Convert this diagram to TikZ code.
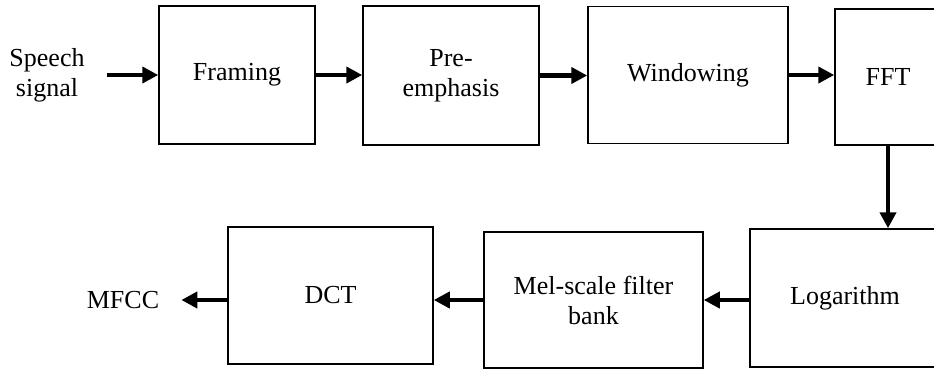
\documentclass[tikz,border=0pt]{standalone}
\usepackage{fontspec}
\setmainfont{Liberation Serif}
\usetikzlibrary{arrows.meta}
\begin{document}
\begin{tikzpicture}[x=1pt,y=-1pt,
  blk/.style={draw=black, line width=1.5pt, rectangle, align=center, inner sep=0pt},
  lbl/.style={align=center, inner sep=0pt},
  arr/.style={line width=4.5pt, -{Triangle[length=16pt,width=16pt]}},
  every node/.style={font=\fontsize{26}{30}\selectfont}]
\clip (0,0) rectangle (934,370);
\fill[white] (0,0) rectangle (934,370);
\node[blk, minimum width=156pt, minimum height=138pt] (framing) at (237,75) {Framing};
\node[blk, minimum width=176pt, minimum height=139pt] (pre) at (451,75.5) {Pre-\\emphasis};
\node[blk, minimum width=200pt, minimum height=137pt] (win) at (688,75) {Windowing};
\node[blk, minimum width=106pt, minimum height=136pt] (fft) at (888,77) {FFT};
\node[blk, minimum width=190pt, minimum height=138pt] (log) at (845,298) {Logarithm};
\node[blk, minimum width=219pt, minimum height=136pt] (mel) at (593.5,300) {Mel-scale filter\\bank};
\node[blk, minimum width=205pt, minimum height=137pt] (dct) at (330.5,295.5) {DCT};
\node[lbl] (speech) at (47,75) {Speech\\signal};
\node[lbl] (mfcc) at (123,300) {MFCC};
\draw[arr, shorten <=22pt] (speech.east) -- (speech.east -| framing.west);
\draw[arr] (framing.east) -- (framing.east -| pre.west);
\draw[arr] (pre.east) -- (pre.east -| win.west);
\draw[arr] (win.east) -- (win.east -| fft.west);
\draw[arr] (fft.south) -- (fft.south |- log.north);
\draw[arr] (log.west |- mel.east) -- (mel.east);
\draw[arr] (mel.west) -- (mel.west -| dct.east);
\draw[arr, shorten >=22pt] (dct.west |- mfcc.east) -- (mfcc.east);
\end{tikzpicture}
\end{document}
